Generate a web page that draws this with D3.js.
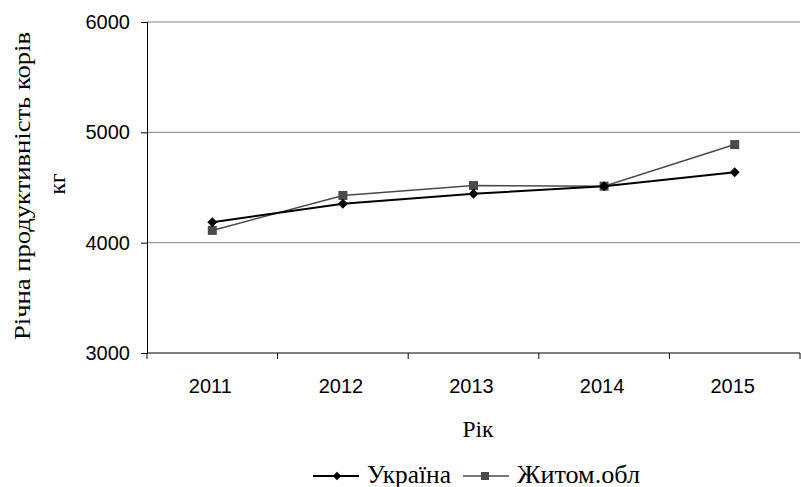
<!DOCTYPE html>
<html>
<head>
<meta charset="utf-8">
<script src="https://cdn.jsdelivr.net/npm/d3@7"></script>
<style>
  body { margin: 0; background: #fff; }
  .sans { font-family: "Liberation Sans", Arial, sans-serif; }
  .serif { font-family: "Liberation Serif", "Times New Roman", serif; }
</style>
</head>
<body>
<div id="app"></div>
<script>
// data
const years = ['2011', '2012', '2013', '2014', '2015'];
const ukraine = [4186, 4352, 4443, 4512, 4638];
const zhytomyr = [4111, 4428, 4518, 4512, 4889];
const yTicks = [3000, 4000, 5000, 6000];

const W = 801, H = 487;
const margin = {top: 22, right: 1, bottom: 134, left: 147};
const width = W - margin.left - margin.right;
const height = H - margin.top - margin.bottom;

const svg = d3.select('#app').append('svg')
  .attr('width', W)
  .attr('height', H);

const g = svg.append('g')
  .attr('transform', `translate(${margin.left},${margin.top})`);

const x = d3.scaleBand().domain(years).range([0, width]);
const y = d3.scaleLinear().domain([3000, 6000]).range([height, 0]);

// gridlines
g.selectAll('line.grid')
  .data(yTicks.slice(1))
  .join('line')
  .attr('class', 'grid')
  .attr('x1', 0).attr('x2', width)
  .attr('y1', d => y(d)).attr('y2', d => y(d))
  .attr('stroke', '#808080')
  .attr('stroke-width', 1);

// y axis
const yAxis = g.append('g')
  .call(d3.axisLeft(y).tickValues(yTicks).tickSize(6).tickPadding(11).tickFormat(d3.format('d')));
yAxis.select('.domain').attr('stroke', '#000');
yAxis.selectAll('text').attr('class', 'sans').style('font-size', '20px').attr('fill', '#000');

// x axis: ticks on category boundaries
const xAxis = g.append('g').attr('transform', `translate(0,${height})`);
xAxis.append('line').attr('x1', 0).attr('x2', width).attr('stroke', '#000');
xAxis.selectAll('line.tk')
  .data(d3.range(years.length + 1))
  .join('line')
  .attr('class', 'tk')
  .attr('x1', i => i * x.step()).attr('x2', i => i * x.step())
  .attr('y1', 0).attr('y2', 6)
  .attr('stroke', '#000');
xAxis.selectAll('text')
  .data(years)
  .join('text')
  .attr('class', 'sans')
  .attr('x', d => x(d) + x.bandwidth() / 2 - 2)
  .attr('y', 40)
  .attr('text-anchor', 'middle')
  .style('font-size', '20px')
  .text(d => d);

// lines
const cx = d => x(d) + x.bandwidth() / 2;
const line = d3.line().x((d, i) => cx(years[i])).y(d => y(d));

g.append('path').datum(zhytomyr)
  .attr('d', line).attr('fill', 'none')
  .attr('stroke', '#4a4a4a').attr('stroke-width', 1.5);
g.append('path').datum(ukraine)
  .attr('d', line).attr('fill', 'none')
  .attr('stroke', '#000').attr('stroke-width', 2);

g.selectAll('rect.zh')
  .data(zhytomyr)
  .join('rect')
  .attr('class', 'zh')
  .attr('x', (d, i) => cx(years[i]) - 4.5)
  .attr('y', d => y(d) - 4.5)
  .attr('width', 9).attr('height', 9)
  .attr('fill', '#4a4a4a');
g.selectAll('path.ua')
  .data(ukraine)
  .join('path')
  .attr('class', 'ua')
  .attr('d', d3.symbol().type(d3.symbolSquare).size(50))
  .attr('transform', (d, i) => `translate(${cx(years[i])},${y(d)}) rotate(45)`)
  .attr('fill', '#000');

// axis titles
svg.append('text')
  .attr('class', 'serif')
  .attr('x', 478)
  .attr('y', 437)
  .attr('text-anchor', 'middle')
  .style('font-size', '23.5px')
  .text('Рік');

const yt = svg.append('text')
  .attr('class', 'serif')
  .attr('transform', 'translate(0,186) rotate(-90)')
  .attr('text-anchor', 'middle')
  .style('font-size', '23.5px');
yt.append('tspan').attr('x', 0).attr('y', 30)
  .attr('textLength', 308).attr('lengthAdjust', 'spacingAndGlyphs')
  .text('Річна продуктивність корів');
yt.append('tspan').attr('x', 2).attr('y', 65).text('кг');

// legend
const legend = svg.append('g').attr('transform', 'translate(313,476)');
const items = [
  {name: 'Україна', color: '#000', w: 2, sym: 'd', x: 0, tw: 84},
  {name: 'Житом.обл', color: '#4a4a4a', w: 1.5, sym: 's', x: 150, tw: 123}
];
items.forEach(it => {
  const gi = legend.append('g').attr('transform', `translate(${it.x},0)`);
  gi.append('line').attr('x1', 0).attr('x2', 46).attr('y1', 0).attr('y2', 0)
    .attr('stroke', it.color).attr('stroke-width', it.w);
  if (it.sym === 'd') {
    gi.append('path').attr('d', d3.symbol().type(d3.symbolSquare).size(36)())
      .attr('transform', 'translate(24,0) rotate(45)').attr('fill', it.color);
  } else {
    gi.append('rect').attr('x', 18).attr('y', -4).attr('width', 8).attr('height', 8).attr('fill', it.color);
  }
  gi.append('text').attr('class', 'serif').attr('x', 54).attr('y', 7)
    .style('font-size', '26px')
    .attr('textLength', it.tw).attr('lengthAdjust', 'spacingAndGlyphs')
    .text(it.name);
});
</script>
</body>
</html>
